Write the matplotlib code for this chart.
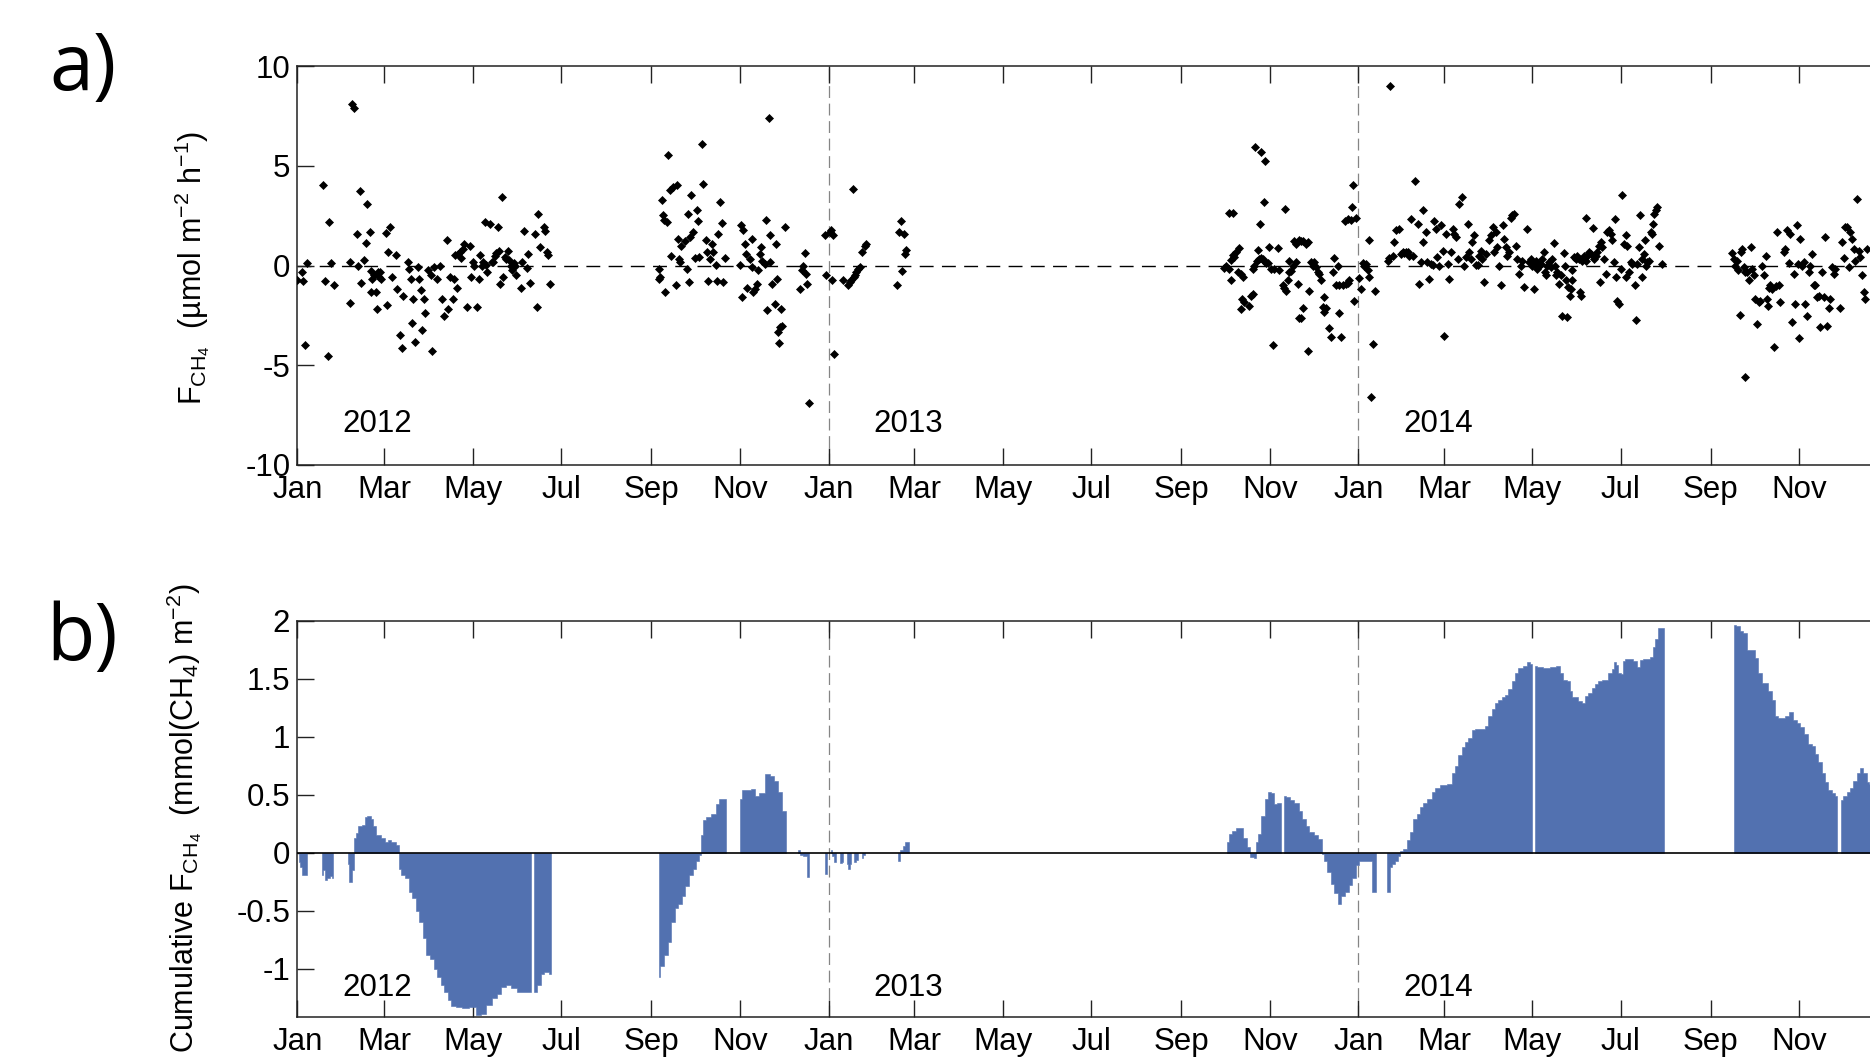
import datetime as dt

import numpy as np
import matplotlib
matplotlib.use('Agg')
import matplotlib.pyplot as plt
import matplotlib.dates as mdates
from matplotlib.ticker import FuncFormatter, FixedLocator

plt.rcParams['font.family'] = ['Liberation Sans', 'DejaVu Sans']
plt.rcParams['mathtext.fontset'] = 'custom'
plt.rcParams['mathtext.rm'] = 'Liberation Sans'
plt.rcParams['mathtext.it'] = 'Liberation Sans:italic'
plt.rcParams['mathtext.bf'] = 'Liberation Sans:bold'
plt.rcParams['axes.unicode_minus'] = False

START = dt.datetime(2012, 1, 1)
END = dt.datetime(2015, 1, 1)
YEARS = [2012, 2013, 2014]

# daily CH4 flux (umol m-2 h-1), (day since 2012-01-01, flux)
flux_spring_2012 = [
    (0, -0.75), (3, -0.33), (4, -0.8), (5, -4.0), (7, 0.13), (18, 4.05), (19, -0.8), (21, -4.55),
    (22, 2.18), (23, 0.13), (25, -1.0), (36, 0.2), (36.5, -1.88), (38, 8.1), (39, 7.9), (41, 1.56),
    (42, 0.0), (43, 3.72), (44, -0.87), (46, 0.3), (47, 1.14), (48, 3.1), (50, 1.67), (50.5, -0.27),
    (51, -1.34), (51.5, -0.67), (53, -0.47), (54, -1.34), (55, -2.2), (55.5, -0.33), (56, -0.59),
    (57, -0.33), (58, -0.67), (61, 1.64), (62, -1.98), (62.5, 0.7), (64, 1.91), (65, -0.59), (68, 0.54),
    (69, -1.17), (71, -3.48), (72, -4.15), (73, -1.54), (76, 0.2), (77, -0.2), (78, -0.67), (79, -2.88),
    (80, -1.68), (81, -3.82), (83, -0.1), (84, -0.67), (85, -1.24), (86, -3.22), (87, -1.68), (88, -2.38),
    (90, -0.25), (92, -0.5), (93, -4.27), (94, -0.08), (96, -0.7), (98, -0.03), (100, -1.68), (101, -2.51),
    (103, 1.26), (104, -2.18), (105, -0.59), (107, -1.68), (108, -0.67), (109, 0.54), (110, -1.14),
    (111, 0.6), (112, 0.7), (113, 0.37), (114, 0.85), (115, 1.09), (117, -2.09), (119, 1.0), (120, -0.59),
    (121, 0.17), (122, 0.0), (124, -2.09), (125, -0.67), (126, 0.54), (127, 0.0), (128, 0.17), (129, 2.18),
    (130, 0.05), (131, -0.33), (133, 2.09), (134, 0.17), (135, 0.2), (136, 0.5), (137, 0.65), (138, 1.93),
    (139, 0.75), (140, -0.94), (141, 3.43), (142, -0.59), (143, 0.45), (144, 0.34), (145, 0.75), (146, 0.3),
    (147, 0.0), (148, -0.25), (149, 0.13), (150, 0.0), (151, -0.5), (154, -1.14), (155, 0.17), (156, 1.71),
    (158, -0.13), (159, 0.59), (160, -0.87), (164, 1.56), (165, -2.09), (166, 2.58), (167, 0.95),
    (170, 1.93), (171, 1.71), (172, 0.67), (173, 0.54), (174, -0.94),
]

flux_autumn_2012 = [
    (248.9, -0.17), (249.5, -0.7), (250, -0.59), (251, 3.27), (251.7, 2.51), (252.6, 2.26), (253.5, -1.34),
    (254.4, 2.18), (255.6, 5.56), (256.7, 3.77), (257.2, 0.5), (259, 3.94), (260.6, -1.0), (261.3, 4.02),
    (262.4, 1.34), (263, 0.34), (263.6, 0.17), (264.7, 1.0), (267, 1.21), (268.2, -0.2), (269.3, 2.6),
    (269.8, -0.84), (270.5, 1.42), (271.6, 3.52), (272.8, 1.68), (273.9, 0.37), (275.1, 2.76), (276.2, 2.21),
    (276.7, 0.42), (278.5, 6.08), (279.7, 4.1), (281.5, 1.26), (282, 0.67), (283.1, -0.8), (284.2, 0.34),
    (285.4, 1.09), (286.5, 0.7), (288.8, 0.03), (289.3, -0.8), (290, 1.56), (291.1, 3.18), (292.3, 2.14),
    (293, -0.84), (294.6, 0.37), (305, 0.03), (306, 2.01), (306.5, -1.59), (307.2, 1.76), (308.3, 1.09),
    (309.5, 0.59), (310, -1.14), (311.8, 0.34), (313, 1.34), (313.6, -0.08), (314.1, -1.34), (315.2, -1.17),
    (316.4, -0.92), (317.5, -0.25), (318.7, 0.59), (319.8, 0.92), (320.5, 0.25), (322.1, 0.08), (322.8, 2.26),
    (323.7, -2.21), (325.1, 7.37), (325.5, 0.17), (326, 1.51), (327.4, -0.92), (329, -1.93), (329.7, 1.09),
    (330.6, -0.67), (331.3, -3.32), (332, -3.89), (332.4, -3.1), (333.6, -2.18), (334.3, -3.02), (335.9, 1.93),
    (346.2, -1.17), (348, -0.25), (348.5, 0.0), (349.6, 0.64), (350.3, -0.42), (351.2, -0.92), (352.6, -6.9),
    (363.4, 1.51), (364.5, -0.5), (366.8, 1.68), (368, 1.76), (368.5, -0.75), (369.1, 1.51), (369.6, -4.44),
    (376, -0.75), (379.4, -1.0), (380.6, -0.84), (381.7, -0.75), (382.9, 3.85), (383.4, -0.59), (384, -0.47),
    (385.2, -0.34), (386.3, -0.2), (387.5, -0.08), (389.3, 0.67), (390.9, 1.0), (392.1, 1.09),
    (413.2, -1.0), (414.5, 1.68), (416.1, 2.21), (416.8, -0.3), (417.8, 1.59), (418.4, 0.59), (419.6, 0.8),
]

flux_winter_2013 = [
    (638.8, -0.13), (640, -0.03), (642.2, -0.17), (642.2, 2.65), (643.4, 0.3), (643.4, -0.75), (644.5, 0.54),
    (644.5, 2.65), (645.7, 0.42), (646.8, 0.67), (648, -0.34), (649.1, 0.87), (650.3, -0.42), (650.3, -2.18),
    (651, -1.68), (651.4, -0.59), (652.6, -1.81), (656, -2.01), (657.2, -1.54), (658.3, -1.42), (658.3, -0.17),
    (659.5, -0.03), (660.1, 5.95), (661.1, 0.25), (661.7, 0.8), (662.9, 0.34), (663.6, 2.09), (664, 5.7),
    (664, 0.37), (665.2, 0.34), (666.3, 3.18), (666.3, 0.25), (667, 5.23), (667.5, 0.13), (668.6, 0.13),
    (669.8, 0.92), (670.9, -0.17), (672.1, -3.99), (673.2, -0.17), (675.5, 0.87), (676.7, -0.25), (679, -1.0),
    (680.1, -1.14), (680.8, 2.85), (681.2, -1.26), (682.4, -0.75), (683.5, -0.34), (683.5, 0.25), (684.7, -0.3),
    (685.8, 0.0), (687, 1.21), (688.1, 1.09), (688.1, 0.17), (689.3, -0.92), (690.4, 1.26), (690.4, -2.65),
    (691.6, 1.21), (691.6, -2.65), (692.7, 1.21), (692.7, -2.14), (695, 1.09), (696.2, 1.17), (696.2, -4.27),
    (697.3, -1.26), (698.4, 0.17), (699.6, 0.0), (700.7, 0.17), (701.9, -0.08), (703, -0.34), (704.2, -0.42),
    (705.3, -0.75), (706.5, -2.09), (707.6, -1.59), (707.6, -2.35), (708.8, -2.14), (711.1, -3.15),
    (712.2, -3.6), (713.4, -0.34), (714.5, 0.37), (715.7, -1.0), (716.8, 0.0), (718, -1.0), (718, -2.38),
    (719.1, -3.6), (720.2, -0.97), (722.1, 2.21), (722.5, -0.92), (723.7, -0.87), (723.7, 2.35), (724.8, -0.75),
    (726, 2.26), (726.7, 2.93), (727.1, 4.05), (728.3, -1.76), (729.4, 2.38),
    (731.7, -0.64), (732.9, -1.17), (734, 0.13), (735.2, 0.0), (736.3, 0.08), (737.4, -0.25), (738.1, 1.26),
    (738.6, -0.59), (739.7, -6.57), (740.9, -3.94), (742.7, -1.26),
]

flux_summer_2014 = [
    (751.2, 0.25), (752.4, 0.37), (752.8, 8.98), (754.7, 0.47), (755.8, 1.17), (757, 1.76), (759.2, 1.84),
    (760.4, 0.59), (761.5, 0.67), (762.7, 0.64), (763.8, 0.67), (765, 0.7), (766.1, 0.5), (767.3, 2.35),
    (768.4, 0.47), (770.3, 4.22), (771.9, 2.09), (773, -0.92), (774.2, 0.17), (775.3, 1.17), (775.8, 2.76),
    (777.6, 1.68), (778.7, 0.17), (779.9, -0.67), (781, 0.08), (782.2, 0.03), (783.3, 2.21), (784.5, 1.84),
    (785.6, 0.42), (786.8, 0.0), (787.9, 2.01), (789.1, 0.75), (790.2, -3.55), (791.4, 1.59), (792.5, 0.08),
    (793.7, -0.67), (794.8, 0.67), (796, 1.84), (797.1, 1.59), (798.2, 1.42), (799.4, 0.34), (800.1, 3.1),
    (802.8, 3.43), (804, 0.0), (805.1, 0.42), (806.3, 2.09), (807.4, 0.67), (808.6, 0.34), (809.7, 1.17),
    (810.9, 1.51), (812, 0.03), (813.2, 0.03), (814.3, 0.5), (815.4, 0.75), (816.6, 0.34), (817.7, -0.84),
    (818.9, 0.59), (821.2, 1.26), (822.3, 1.51), (823.5, 1.93), (824.6, 0.67), (825.8, 1.68), (826.9, 0.92),
    (828.1, 0.0), (829.2, -1.0), (830.4, 2.04), (831.5, 1.34), (832.7, 0.92), (833.8, 0.5), (835, 0.67),
    (836.1, 2.38), (837.2, 2.51), (838.4, 2.6), (839.5, 1.0), (840.7, 0.34), (841.8, -0.42), (843, 0.0),
    (844.1, 0.25), (845.3, -1.09), (847.6, 1.81), (848.7, 0.17), (849.8, 0.34), (851, 0.0), (852.1, -1.17),
    (852.1, 0.13), (853.3, 0.08), (853.7, 0.25), (854.4, -0.17), (855.6, 0.0), (856.7, 0.08), (857.9, 0.34),
    (859, 0.7), (859.7, -0.34), (860.2, -0.5), (861.3, 0.0), (862.5, 0.17), (863.6, -0.08), (864.8, 0.34),
    (865.9, 1.14), (866.6, 0.0), (867.1, -0.47), (868.2, -0.34), (869.3, -0.92), (870.5, -0.47), (871.6, -2.51),
    (872.8, 0.64), (873.5, 0.0), (874, -0.75), (875.1, -2.6), (875.8, -1.09), (876.7, -1.51), (877.4, -1.17),
    (878.5, -0.25), (878.5, -0.75), (879.7, 0.42), (880.8, 0.34), (882, 0.5), (883.1, 0.34), (883.6, -1.34),
    (884.3, -1.51), (885.4, 0.25), (886.6, 0.5), (887.7, 0.25), (888.2, 2.38), (888.8, 0.5), (890, 0.67),
    (891.1, 0.59), (892.7, 1.88), (893.4, 0.34), (894.6, 0.5), (895.7, 0.67), (896.9, 1.0), (897.3, -0.84),
    (898, 1.17), (899.2, 0.92), (900.3, 0.34), (901.5, -0.42), (902.6, 1.68), (903.8, 1.76), (904.9, 1.59),
    (906.1, 1.26), (907.2, 0.17), (907.9, 2.31), (908.8, -0.59), (909.5, -1.76), (910.6, -1.93), (911.8, -0.17),
    (912.9, 3.52), (914.1, 1.09), (915.2, 1.51), (915.2, -0.59), (916.4, 1.0), (917.5, -0.34), (918.7, 0.17),
    (919.8, 0.08), (921.7, -1.0), (922.6, -2.71), (923.3, 0.08), (924.4, 0.92), (924.9, 2.51), (926.2, -0.59),
    (926.7, 0.34), (927.8, 0.59), (928.5, 1.26), (929, 0.0), (930.1, 0.17), (931.3, 0.25), (932.4, 1.68),
    (933.6, 1.59), (934, 2.09), (934.7, 2.6), (935.9, 2.76), (936.6, 2.93), (938.2, 0.97), (940.5, 0.08),
]

flux_autumn_2014 = [
    (988.6, 0.64), (989.8, 0.34), (990.9, 0.0), (992.1, 0.25), (992.8, -0.25), (993.7, -2.48), (994.4, 0.67),
    (995.5, 0.84), (996.7, -0.08), (997.4, -5.61), (997.8, -0.34), (999, -0.34), (1000.1, -0.75), (1001.3, 0.92),
    (1002.4, -0.17), (1003.6, -0.47), (1004.7, -1.68), (1005.8, -2.93), (1007, -1.84), (1008.1, -1.76),
    (1009.3, 0.0), (1010.4, -0.5), (1011.6, 0.5), (1012.7, -1.68), (1013.4, -2.01), (1013.9, -1.14),
    (1015, -1.0), (1016.2, -1.17), (1017.3, -4.1), (1018.5, -1.04), (1019.6, 1.68), (1020.8, -1.0),
    (1021.9, -1.84), (1024.2, 0.67), (1025.3, 0.84), (1026.5, 1.76), (1027.6, 0.13), (1028.8, 1.59),
    (1029.9, -2.85), (1031.1, -0.42), (1032.2, -1.93), (1033.4, 2.01), (1034.1, 0.08), (1035, -3.65),
    (1035.7, 1.34), (1036.8, 0.0), (1038, 0.17), (1039.1, -1.93), (1040.3, -2.55), (1041.4, -0.34),
    (1042.5, 0.0), (1043.7, 0.59), (1044.8, -1.0), (1046, -1.0), (1047.1, -1.59), (1048.3, -1.54),
    (1049.4, -3.1), (1050.6, -0.34), (1051.7, -1.59), (1052.9, 1.42), (1054, -3.02), (1055.2, -2.14),
    (1056.3, -1.68), (1057.5, -0.08), (1058.6, -0.42), (1059.3, -0.17), (1063.2, -2.14), (1064.3, 1.17),
    (1065.5, 0.37), (1066.6, 1.93), (1067.8, 1.93), (1068.9, -0.08), (1070.1, 1.68), (1071.2, 1.34),
    (1072.4, 0.84), (1073.5, 0.25), (1074.7, 3.35), (1075.8, 0.75), (1077, 0.42), (1078.1, -0.5),
    (1079.3, -1.34), (1080.4, -1.68), (1081.5, 0.84),
]

# cumulative CH4 flux (mmol m-2), (day since 2012-01-01, value); nan marks a data gap
nan = np.nan
cum_2012 = [
    (1, -0.08), (2.5, -0.12), (4, -0.19), (5.5, -0.19), (6.5, -0.19), (10, nan),
    (17, -0.19), (18.5, -0.15), (20, -0.24), (21.5, -0.22), (23, -0.2), (24.5, -0.22), (30, nan),
    (35, -0.1), (36, -0.25), (37.5, -0.25), (38.5, -0.15), (39.3, 0.13), (41, 0.17), (42.7, 0.23),
    (45.9, 0.24), (47.1, 0.31), (49.6, 0.32), (51.6, 0.29), (53.3, 0.23), (55.8, 0.15), (59.4, 0.13),
    (61.9, 0.09), (63.1, 0.11), (66.3, 0.09), (69.3, 0.07), (70.5, -0.14), (73, -0.19), (75.4, -0.22),
    (77.9, -0.34), (80.4, -0.39), (82.8, -0.5), (85.3, -0.6), (87.7, -0.74), (90.2, -0.88), (92.7, -0.92),
    (95.1, -1.0), (97.6, -1.07), (100, -1.14), (102.5, -1.2), (105, -1.27), (107.4, -1.32), (111.1, -1.33),
    (116, -1.34), (121, -1.33), (124.7, -1.4), (128.4, -1.39), (132, -1.31), (135.7, -1.25), (139.4, -1.22),
    (141.9, -1.16), (145.6, -1.14), (149.3, -1.17), (153, -1.2), (157.9, -1.2), (161, -1.2), (162, nan),
    (163, -1.2), (164, -1.2), (166.5, -1.14), (168.9, -1.05), (171.4, -1.03), (175.1, -1.05), (200, nan),
    (248.9, -1.07), (251.4, -0.98), (253.9, -0.88), (256.3, -0.77), (258.8, -0.6), (261.2, -0.48),
    (263.7, -0.44), (266.2, -0.37), (268.6, -0.29), (271.1, -0.19), (273.5, -0.14), (276, -0.07), (278, -0.02),
    (278.9, 0.15), (280.4, 0.28), (283.4, 0.31), (287.1, 0.33), (289.5, 0.42), (292, 0.46), (295.5, 0.46),
    (300, nan),
    (305, 0.46), (308, 0.54), (311.7, 0.54), (314.1, 0.55), (316.6, 0.49), (320.3, 0.51), (324, 0.68),
    (327.2, 0.66), (330.1, 0.62), (332.6, 0.52), (335, 0.36), (336.5, 0.36), (340, nan),
    (345, 0.02), (347.5, -0.02), (350, -0.03), (351.8, -0.21), (352.8, -0.21), (358, nan),
    (363.8, -0.18), (365, -0.18), (366, nan), (367.5, 0.02), (369, -0.03), (371, -0.08), (372.5, nan),
    (374, -0.09), (376, -0.08), (377, nan), (378.5, -0.1), (380, -0.14), (381.5, -0.1), (382.5, nan),
    (383.5, -0.08), (386, -0.06), (387.5, nan), (389, -0.05), (391, -0.02), (400, nan),
    (414, -0.07), (416, 0.02), (418, 0.06), (420, 0.09), (421.2, 0.09),
]

cum_2013_2014 = [
    (640.6, 0.09), (643.1, 0.16), (645.6, 0.19), (648, 0.21), (650.5, 0.21), (653, 0.13), (655.4, 0.05),
    (657.9, -0.04), (659.9, -0.05), (660.8, 0.09), (663.3, 0.16), (665.3, 0.32), (667.7, 0.46), (669.7, 0.52),
    (672.2, 0.51), (673.9, 0.42), (676.3, 0.43), (678.1, 0.43), (678.8, nan), (679.5, 0.49), (682.5, 0.48),
    (684.9, 0.45), (688.6, 0.43), (691.1, 0.36), (693.6, 0.29), (696, 0.23), (698.5, 0.18), (702.2, 0.15),
    (704.6, 0.12), (707.1, -0.01), (708.3, -0.07), (710.8, -0.17), (713.3, -0.27), (715.7, -0.35),
    (718.2, -0.44), (720.6, -0.37), (723.1, -0.34), (725.6, -0.28), (728, -0.22), (730.5, -0.11),
    (732.2, -0.07), (736, -0.07), (740, -0.07), (740.9, -0.34), (743, -0.34), (745, nan),
    (751, -0.34), (753, -0.34), (753.3, -0.12), (755.2, -0.1), (757.5, -0.07), (759.3, -0.03), (759.8, 0.01),
    (763.2, 0.03), (765.5, 0.11), (767.8, 0.18), (770.1, 0.29), (772.4, 0.33), (774.7, 0.39), (777, 0.43),
    (780.4, 0.46), (782.7, 0.52), (785, 0.56), (789.6, 0.58), (794.2, 0.59), (796.5, 0.69), (798.8, 0.75),
    (801.1, 0.84), (803.4, 0.91), (805.7, 0.95), (808, 0.99), (810.3, 1.06), (812.6, 1.07), (817.2, 1.07),
    (819.5, 1.09), (821.8, 1.18), (824.1, 1.24), (826.4, 1.29), (828.7, 1.32), (831, 1.34), (833.3, 1.36),
    (835.6, 1.41), (837.9, 1.48), (840.2, 1.55), (842.5, 1.59), (845.9, 1.61), (848.2, 1.64), (850.5, 1.63),
    (851.6, nan), (852.6, 1.61), (856.2, 1.6), (860.8, 1.59), (865.4, 1.6), (868.9, 1.61), (871.2, 1.55),
    (873.5, 1.49), (875.8, 1.48), (877.4, 1.39), (879.2, 1.34), (881.5, 1.34), (883.8, 1.31), (886.1, 1.29),
    (888.4, 1.35), (890.7, 1.38), (893, 1.42), (895.3, 1.45), (897.6, 1.48), (899.9, 1.49), (902.2, 1.49),
    (904.5, 1.55), (906.8, 1.58), (907.9, 1.64), (909.5, 1.62), (910.9, 1.55), (912.5, 1.54), (913.7, 1.65),
    (916, 1.67), (919.4, 1.67), (921.7, 1.65), (924, 1.6), (926.3, 1.66), (928.6, 1.67), (930.9, 1.67),
    (933.2, 1.69), (934.3, 1.77), (936.6, 1.84), (938.9, 1.94), (941.5, 1.94), (965, nan),
    (989.8, 1.96), (992.9, 1.95), (995.2, 1.91), (997.5, 1.89), (999.8, 1.75), (1003.2, 1.75), (1005.5, 1.68),
    (1007.8, 1.55), (1010.1, 1.46), (1012.4, 1.46), (1014.7, 1.39), (1017, 1.32), (1018.9, 1.18),
    (1021.6, 1.16), (1023.9, 1.16), (1026.2, 1.18), (1029.7, 1.21), (1032, 1.14), (1034.3, 1.12),
    (1036.6, 1.08), (1040, 1.02), (1042.3, 0.94), (1044.6, 0.92), (1046.9, 0.85), (1049.2, 0.78),
    (1051.5, 0.69), (1053.8, 0.61), (1056.1, 0.54), (1058.4, 0.51), (1061.1, 0.49), (1062.3, nan),
    (1063.5, 0.45), (1066.4, 0.49), (1068.7, 0.52), (1071, 0.56), (1073.3, 0.62), (1075.6, 0.69),
    (1077.9, 0.73), (1080.2, 0.69), (1082.5, 0.61), (1084, 0.59), (1086, 0.55),
]

BAR_COLOR = '#5271b0'
TICK_FS = 22.5


def to_dates(days):
    return mdates.date2num(START) + np.asarray(days, dtype=float)


def draw_cumulative(ax, series):
    arr = np.array(series, dtype=float)
    x, y = to_dates(arr[:, 0]), arr[:, 1]
    breaks = np.where(np.isnan(y))[0]
    for run in np.split(np.arange(len(y)), breaks):
        run = run[~np.isnan(y[run])]
        if len(run) > 1:
            ax.fill_between(x[run], 0, y[run], step='mid', color=BAR_COLOR,
                            linewidth=0.4, edgecolor=BAR_COLOR, zorder=2)


# labelled ticks every second month inside the plotted years
tick_dates = [mdates.date2num(dt.datetime(yr, m, 1)) for yr in YEARS for m in (1, 3, 5, 7, 9, 11)]


def style_axis(ax):
    ax.set_xlim(mdates.date2num(START), mdates.date2num(END))
    ax.xaxis.set_major_locator(FixedLocator(tick_dates))
    ax.xaxis.set_major_formatter(mdates.DateFormatter('%b'))
    ax.tick_params(direction='in', length=12, width=1.0, top=True, right=True,
                   labelsize=TICK_FS, colors='#222222', labelcolor='black')
    ax.tick_params(axis='x', pad=7)
    ax.tick_params(axis='y', pad=5)
    for sp in ax.spines.values():
        sp.set_linewidth(1.1)
        sp.set_color('#222222')
    for yr in YEARS[1:]:
        ax.axvline(mdates.date2num(dt.datetime(yr, 1, 1)), color='#858585',
                   lw=0.9, dashes=(9.5, 4.5), zorder=1)


fig = plt.figure(figsize=(18.7, 10.6), dpi=100)
W, H = 1870.0, 1060.0
x0, width = 297.3 / W, 1590.7 / W
ax1 = fig.add_axes([x0, 1 - 465 / H, width, 399 / H])
ax2 = fig.add_axes([x0, 1 - 1017.3 / H, width, 396.6 / H])

# a) daily fluxes
for series in (flux_spring_2012, flux_autumn_2012, flux_winter_2013,
               flux_summer_2014, flux_autumn_2014):
    arr = np.array(series)
    ax1.plot(to_dates(arr[:, 0]), arr[:, 1], linestyle='none', marker='D',
             ms=4.1, color='black', mew=0.5, zorder=3)
ax1.axhline(0, color='black', lw=1.0, dashes=(10, 6), zorder=1)
ax1.set_ylim(-10, 10)
ax1.set_yticks([-10, -5, 0, 5, 10])
style_axis(ax1)

# b) cumulative fluxes
draw_cumulative(ax2, cum_2012)
draw_cumulative(ax2, cum_2013_2014)
ax2.axhline(0, color='black', lw=1.2, zorder=3)
ax2.set_ylim(-1.42, 2)
ax2.set_yticks([-1, -0.5, 0, 0.5, 1, 1.5, 2])
ax2.yaxis.set_major_formatter(FuncFormatter(lambda v, _: '%g' % v))
style_axis(ax2)

for yr in YEARS:
    xt = mdates.date2num(dt.datetime(yr, 1, 1)) + 31
    ax1.text(xt, -8.35, str(yr), fontsize=TICK_FS, ha='left', va='baseline')
    ax2.text(xt, -1.24, str(yr), fontsize=TICK_FS, ha='left', va='baseline')

fig.text(192 / W, 1 - 268 / H,
         r'F$_{\mathrm{CH}_4}$  (µmol m$^{-2}$ h$^{-1}$)',
         rotation=90, ha='center', va='center', fontsize=22)
fig.text(184 / W, 1 - 818 / H,
         r'Cumulative F$_{\mathrm{CH}_4}$  (mmol(CH$_4$) m$^{-2}$)',
         rotation=90, ha='center', va='center', fontsize=22)

fig.text(49 / W, 1 - 90 / H, 'a)', fontsize=57, family=['Open Sans', 'DejaVu Sans'],
         ha='left', va='baseline')
fig.text(46 / W, 1 - 660 / H, 'b)', fontsize=57, family=['Open Sans', 'DejaVu Sans'],
         ha='left', va='baseline')

fig.savefig('out.png', dpi=100)
